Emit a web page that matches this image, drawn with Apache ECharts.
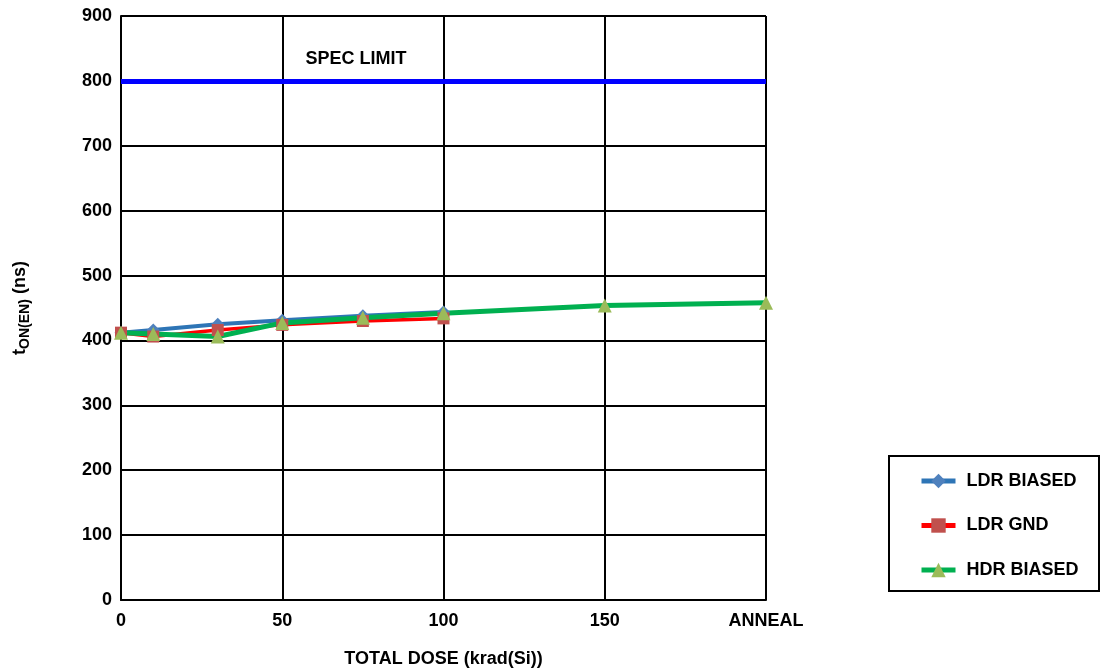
<!DOCTYPE html>
<html><head><meta charset="utf-8">
<script src="https://cdn.jsdelivr.net/npm/echarts@6/dist/echarts.min.js"></script>
<style>html,body{margin:0;padding:0;background:#fff}#c{width:1102px;height:669px}</style>
</head><body><div id="c"></div>
<script>
const xTicks = {0:'0',50:'50',100:'100',150:'150',200:'ANNEAL'};
const ldrDose = [0,10,30,50,75,100];
const ldrBiased = [412,416,425,431,438,444];
const ldrGnd = [412,406,416,424,430,434];
const hdrDose = [0,10,30,50,75,100,150,200];
const hdrBiased = [412,410,406,427,435,442,454,458];
const specLimit = 800;

const pair = (xs, ys) => xs.map((x,i)=>[x,ys[i]]);
const font = 'Liberation Sans, Arial, sans-serif';
const txt = {color:'#000',fontWeight:'bold',fontSize:18,fontFamily:font};
const chart = echarts.init(document.getElementById('c'));
chart.setOption({
  animation:false,
  grid:{left:121,right:336,top:16,bottom:69,outerBoundsMode:'none',containLabel:false},
  xAxis:{type:'value',min:0,max:200,interval:50,
    axisLine:{show:true,lineStyle:{color:'#000',width:2}},
    axisTick:{show:false},
    splitLine:{show:true,lineStyle:{color:'#000',width:2}},
    axisLabel:Object.assign({formatter:v=>xTicks[v]??'',margin:12},txt),
    name:'TOTAL DOSE (krad(Si))',nameLocation:'middle',nameGap:50,
    nameTextStyle:txt},
  yAxis:{type:'value',min:0,max:900,interval:100,
    axisLine:{show:true,lineStyle:{color:'#000',width:2}},
    axisTick:{show:false},
    splitLine:{show:true,lineStyle:{color:'#000',width:2}},
    axisLabel:Object.assign({margin:9},txt),
    name:'{t|t}{s|ON(EN)}{t| (ns)}',nameLocation:'middle',nameGap:89,
    nameTextStyle:{rich:{
      t:txt,
      s:{color:'#000',fontWeight:'bold',fontSize:14,fontFamily:font,padding:[9,0,0,0]}}}},
  legend:{orient:'vertical',left:919,top:472,padding:0,itemGap:26.5,itemWidth:34,itemHeight:18,
    textStyle:Object.assign({padding:[0,0,0,6],lineHeight:18},txt),
    data:[
      {name:'LDR BIASED',lineStyle:{color:'#2E75B6',width:5},itemStyle:{color:'#4F81BD'}},
      {name:'LDR GND',lineStyle:{color:'#FF0000',width:5},itemStyle:{color:'#C0504D'}},
      {name:'HDR BIASED',lineStyle:{color:'#00B050',width:5},itemStyle:{color:'#9BBB59'}}
    ]},
  series:[
    {name:'LDR BIASED',type:'line',data:pair(ldrDose,ldrBiased),
      lineStyle:{color:'#2E75B6',width:4},itemStyle:{color:'#4F81BD'},
      symbol:'diamond',symbolSize:13,
      markLine:{silent:true,symbol:'none',label:{show:false},
        lineStyle:{color:'#0000FF',width:5,type:'solid'},data:[{yAxis:specLimit}]}},
    {name:'LDR GND',type:'line',data:pair(ldrDose,ldrGnd),
      lineStyle:{color:'#FF0000',width:3.5},itemStyle:{color:'#C0504D'},
      symbol:'rect',symbolSize:12},
    {name:'HDR BIASED',type:'line',data:pair(hdrDose,hdrBiased),
      lineStyle:{color:'#00B050',width:5},itemStyle:{color:'#9BBB59'},
      symbol:'triangle',symbolSize:14}
  ],
  graphic:[
    {type:'rect',shape:{x:889,y:456,width:210,height:135},style:{fill:'none',stroke:'#000',lineWidth:2}},
    {type:'line',shape:{x1:121,y1:16,x2:766,y2:16},style:{stroke:'#000',lineWidth:2}},
    {type:'line',shape:{x1:766,y1:16,x2:766,y2:600},style:{stroke:'#000',lineWidth:2}},
    {type:'text',x:356,y:59,style:{text:'SPEC LIMIT',fill:'#000',font:'bold 18px '+font,textAlign:'center',textVerticalAlign:'middle'}}
  ]
});
</script></body></html>
